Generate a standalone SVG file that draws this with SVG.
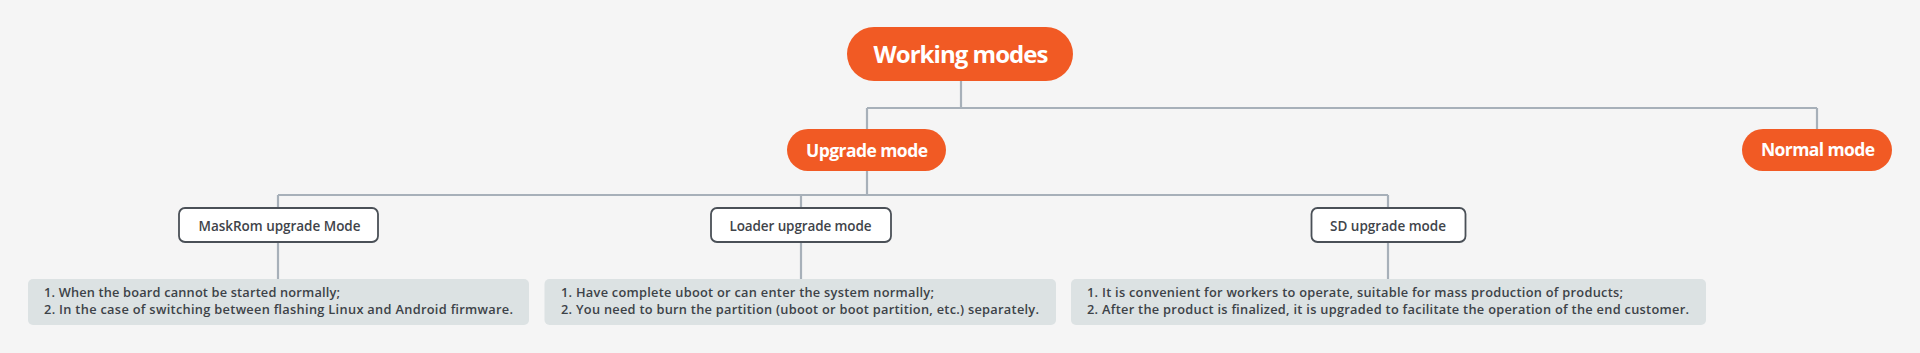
<svg xmlns="http://www.w3.org/2000/svg" width="1920" height="353" viewBox="0 0 1920 353">
<style>
.pill{fill:#F15A24}
.pt{fill:#fff;font-family:"Open Sans","Noto Sans",sans-serif;font-weight:700;text-anchor:middle}
.box{fill:#fff;stroke:#4A5057;stroke-width:1.8}
.bt{fill:#3F444A;font-family:"Open Sans","Noto Sans",sans-serif;font-weight:600;font-size:13.5px;text-anchor:middle}
.desc{fill:#DCE2E3}
.dt{fill:#3D4248;font-family:"Open Sans","Noto Sans",sans-serif;font-weight:600;font-size:12.8px}
.con{fill:none;stroke:#A7B0B9;stroke-width:2.2}
</style>
<rect width="1920" height="353" fill="#F5F5F5"/>
<g id="connectors">
<path class="con" d="M961 81V108M867 108H1817M867 108V129M1817 108V129"/>
<path class="con" d="M867 171V195M278 195H1388M278 195V208M801 195V208M1388 195V208"/>
<path class="con" d="M278 242V279M801 242V279M1388 242V279"/>
</g>
<g id="root">
<rect class="pill" x="847" y="27" width="226" height="54" rx="27"/>
<text class="pt" x="961" y="62.5" font-size="24" textLength="175">Working modes</text>
</g>
<g id="upgrade">
<rect class="pill" x="787" y="129" width="159" height="42" rx="21"/>
<text class="pt" x="867" y="156.5" font-size="17.5" textLength="122">Upgrade mode</text>
</g>
<g id="normal">
<rect class="pill" x="1742" y="129" width="150" height="42" rx="21"/>
<text class="pt" x="1818" y="156" font-size="17.5" textLength="114">Normal mode</text>
</g>
<g id="maskrom">
<rect class="box" x="179" y="208" width="199" height="34" rx="6"/>
<text class="bt" x="279.5" y="230.5" textLength="162">MaskRom upgrade Mode</text>
</g>
<g id="loader">
<rect class="box" x="711" y="208" width="180" height="34" rx="6"/>
<text class="bt" x="800.5" y="230.5" textLength="142">Loader upgrade mode</text>
</g>
<g id="sd">
<rect class="box" x="1311.5" y="208" width="154" height="34" rx="6"/>
<text class="bt" x="1388" y="230.5" textLength="116">SD upgrade mode</text>
</g>
<g id="maskrom-desc">
<rect class="desc" x="28" y="279" width="501" height="46" rx="5"/>
<text class="dt" x="44" y="297" textLength="296">1. When the board cannot be started normally;</text>
<text class="dt" x="44" y="314" textLength="469">2. In the case of switching between flashing Linux and Android firmware.</text>
</g>
<g id="loader-desc">
<rect class="desc" x="544.5" y="279" width="511.5" height="46" rx="5"/>
<text class="dt" x="561" y="297" textLength="373">1. Have complete uboot or can enter the system normally;</text>
<text class="dt" x="561" y="314" textLength="478">2. You need to burn the partition (uboot or boot partition, etc.) separately.</text>
</g>
<g id="sd-desc">
<rect class="desc" x="1071" y="279" width="635" height="46" rx="5"/>
<text class="dt" x="1087" y="297" textLength="536">1. It is convenient for workers to operate, suitable for mass production of products;</text>
<text class="dt" x="1087" y="314" textLength="602">2. After the product is finalized, it is upgraded to facilitate the operation of the end customer.</text>
</g>
</svg>
